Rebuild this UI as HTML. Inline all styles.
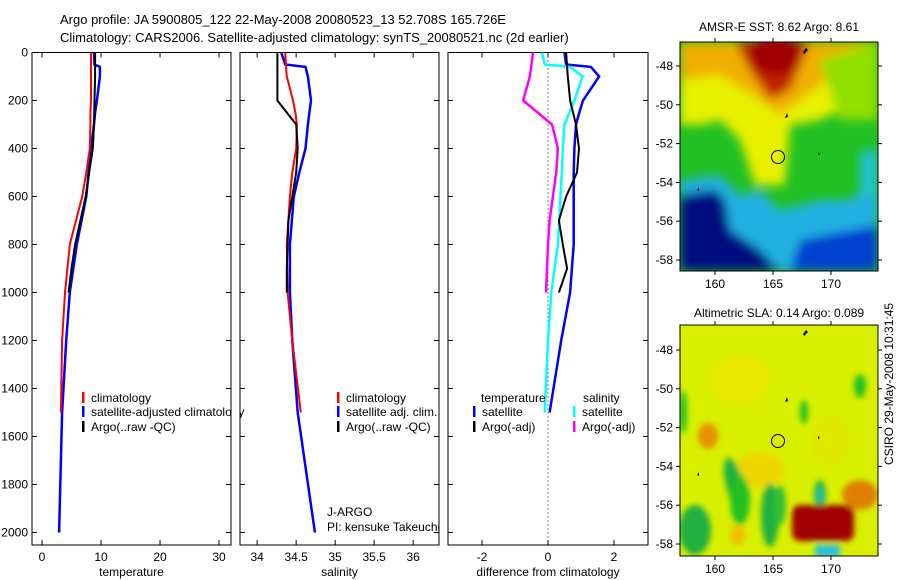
<!DOCTYPE html>
<html><head><meta charset="utf-8"><style>
html,body{margin:0;padding:0;background:#fff}
svg{display:block;font-family:"Liberation Sans",sans-serif}
</style></head><body>
<svg id="fig" width="900" height="580" viewBox="0 0 900 580" xmlns="http://www.w3.org/2000/svg">
<defs>
<filter id="bl" x="-20%" y="-20%" width="140%" height="140%"><feGaussianBlur stdDeviation="5"/></filter>
<filter id="bl2" x="-20%" y="-20%" width="140%" height="140%"><feGaussianBlur stdDeviation="3"/></filter>
<clipPath id="c1"><rect x="680" y="42" width="198" height="229"/></clipPath>
<clipPath id="c2"><rect x="680" y="325" width="198" height="231"/></clipPath>
</defs>
<text x="60" y="24" font-size="13">Argo profile: JA 5900805_122 22-May-2008 20080523_13 52.708S 165.726E</text>
<text x="60" y="42" font-size="13">Climatology: CARS2006. Satellite-adjusted climatology: synTS_20080521.nc (2d earlier)</text>

<g clip-path="url(#c1)">
<rect x="680" y="42" width="198" height="229" fill="#22c022"/>
<g filter="url(#bl)">
<polygon points="680,42 878,42 878,95 840,110 820,120 790,125 785,185 755,185 740,140 720,120 700,125 680,125" fill="#e8f000"/>
<polygon points="680,42 878,42 878,60 840,70 800,100 780,115 760,100 720,75 680,80" fill="#f0b000"/>
<polygon points="735,42 810,42 790,90 770,100 750,70" fill="#c02000"/>
<ellipse cx="775" cy="55" rx="25" ry="20" fill="#a00000"/>
<polygon points="820,60 878,42 878,120 840,120" fill="#90e000"/>
<polygon points="680,180 720,175 740,195 760,190 780,210 820,200 850,200 878,175 878,271 680,271" fill="#20b0e0"/>
<polygon points="860,150 878,150 878,200 860,195" fill="#20c0d0"/>
<polygon points="680,195 715,190 725,200 730,230 760,250 780,271 680,271" fill="#001080"/>
<polygon points="800,240 878,225 878,271 790,271" fill="#0040d0"/>
</g>
<circle cx="778" cy="157" r="6.5" fill="none" stroke="#000" stroke-width="1"/>
<path d="M803,52 l3,-4 l2,2 l-4,4z M785,118 l2,-5 l1,4z M818,152 l2,2 l-2,1z M697,190 l2,-3 l0,4z" fill="#000"/>
</g>
<rect x="680" y="42" width="198" height="229" fill="none" stroke="#000"/>
<text x="779" y="31" font-size="12" text-anchor="middle">AMSR-E SST: 8.62 Argo: 8.61</text>

<g clip-path="url(#c2)">
<rect x="680" y="325" width="198" height="231" fill="#d8f000"/>
<g filter="url(#bl2)">
<ellipse cx="740" cy="380" rx="30" ry="25" fill="#e8e800"/>
<ellipse cx="760" cy="470" rx="25" ry="18" fill="#ecd800"/>
<ellipse cx="830" cy="440" rx="20" ry="25" fill="#e0e800"/>
<ellipse cx="708" cy="436" rx="10" ry="13" fill="#e89000"/>
<ellipse cx="735" cy="485" rx="9" ry="28" fill="#20b040" transform="rotate(-15 735 485)"/>
<ellipse cx="740" cy="500" rx="10" ry="25" fill="#20c020"/>
<ellipse cx="695" cy="530" rx="16" ry="25" fill="#20b040"/>
<ellipse cx="770" cy="515" rx="9" ry="32" fill="#20b040"/>
<ellipse cx="780" cy="505" rx="6" ry="20" fill="#30c030"/>
<ellipse cx="820" cy="495" rx="6" ry="15" fill="#20b040"/>
<ellipse cx="820" cy="495" rx="3" ry="8" fill="#20c0c0"/>
<ellipse cx="804" cy="412" rx="4" ry="12" fill="#20c020"/>
<ellipse cx="860" cy="386" rx="6" ry="12" fill="#20c020"/>
<ellipse cx="683" cy="412" rx="4" ry="22" fill="#20c020"/>
<rect x="792" y="505" width="62" height="36" rx="8" fill="#a00000"/>
<ellipse cx="860" cy="495" rx="18" ry="15" fill="#e08000"/>
<ellipse cx="738" cy="535" rx="8" ry="10" fill="#f0c000"/>
<rect x="815" y="545" width="25" height="12" fill="#20c0e0"/>
</g>
<circle cx="778" cy="441" r="6.5" fill="none" stroke="#000" stroke-width="1"/>
<path d="M803,334 l3,-4 l2,2 l-4,4z M785,402 l2,-5 l1,4z M818,436 l2,2 l-2,1z M697,475 l2,-3 l0,4z" fill="#000"/>
</g>
<rect x="680" y="325" width="198" height="231" fill="none" stroke="#000"/>
<text x="779" y="317" font-size="12" text-anchor="middle">Altimetric SLA: 0.14 Argo: 0.089</text>
<text transform="translate(893,465) rotate(-90)" font-size="12">CSIRO 29-May-2008 10:31:45</text>
<g id="maxes"></g>
<g id="panels"></g>
</svg>
<script>
const depthClim = [0,50,60,100,200,250,300,400,500,600,800,1000,1200,1500,2000];
const tClim =    [8.3,8.3,8.3,8.3,8.3,8.2,8.2,8.1,7.5,6.8,4.7,3.9,3.4,3.2,null];
const tSat =     [8.8,8.9,9.8,9.8,9.3,9.0,8.8,8.3,7.9,7.5,5.9,4.7,4.1,3.4,2.9];
const depthArgo = [0,100,200,300,400,500,600,700,800,900,1000];
const tArgo =     [9.0,9.0,8.9,8.8,8.6,8.0,7.4,6.5,5.6,5.0,4.5];
const sClim =    [34.36,34.37,34.37,34.38,34.46,34.49,34.51,34.50,34.45,34.42,34.38,34.39,34.45,34.56,null];
const sSat =     [34.31,34.36,34.62,34.65,34.69,34.67,34.65,34.62,34.54,34.47,34.42,34.42,34.45,34.52,34.74];
const sArgo =    [34.26,34.26,34.26,34.50,34.52,34.50,34.45,34.40,34.39,34.38,34.38];
const dTSat =    [0.5,0.55,1.3,1.55,1.06,0.95,0.85,0.8,0.78,0.78,0.78,0.67,0.4,0.05,null];
const dSSat =    [-0.18,-0.1,0.67,1.05,0.8,0.65,0.5,0.45,0.42,0.38,0.3,0.1,0.0,-0.1,null];
const dTArgo =   [0.55,0.6,0.67,0.85,0.94,0.88,0.55,0.33,0.45,0.58,0.33];
const dSArgo =   [-0.45,-0.55,-0.75,0.12,0.3,0.25,0.15,0.05,0.0,-0.03,-0.06];
const depthTicks = [0,200,400,600,800,1000,1200,1400,1600,1800,2000];
const tTicks = [0,10,20,30];
const sTicks = [34,34.5,35,35.5,36];
const dTicks = [-2,0,2];
const lonTicks = [160,165,170];
const latTicks = [-48,-50,-52,-54,-56,-58];

const NS='http://www.w3.org/2000/svg';
const P=document.getElementById('panels');
function mk(tag,attrs,parent){const e=document.createElementNS(NS,tag);for(const k in attrs)e.setAttribute(k,attrs[k]);(parent||P).appendChild(e);return e;}
const yTop=52.5, yPx=0.24, yBot=545;
const y=d=>yTop+d*yPx;
const panels=[
 {x0:32,x1:231,v0:-1.7,scale:5.9,ticks:tTicks,label:'temperature',name:'temperature'},
 {x0:240,x1:439,v0:33.78,scale:78,ticks:sTicks,label:'salinity',name:'salinity'},
 {x0:448,x1:648,v0:-3.03,scale:33,ticks:dTicks,label:'difference from climatology',name:'difference'}
];
function xs(p){return v=>p.x0+(v-p.v0)*p.scale;}
panels.forEach((p,i)=>{
 const g=mk('g',{});
 
 
 const f=mk('rect',{x:p.x0,y:yTop,width:p.x1-p.x0,height:yBot-yTop,fill:'#fff',stroke:'#000','stroke-width':1},g);
 
 
 const X=xs(p);
 p.ticks.forEach(t=>{const xx=X(t);
  mk('line',{x1:xx,x2:xx,y1:yTop,y2:yTop+5,stroke:'#000'},g);
  mk('line',{x1:xx,x2:xx,y1:yBot,y2:yBot-5,stroke:'#000'},g);
  const tl=mk('text',{x:xx,y:yBot+16,'font-size':12,'text-anchor':'middle'},g);tl.textContent=String(t);
  
  
 });
 depthTicks.forEach(d=>{const yy=y(d);
  mk('line',{x1:p.x0,x2:p.x0+5,y1:yy,y2:yy,stroke:'#000'},g);
  mk('line',{x1:p.x1,x2:p.x1-5,y1:yy,y2:yy,stroke:'#000'},g);
  if(i===0){const tl=mk('text',{x:28,y:yy+4,'font-size':12,'text-anchor':'end'},g);tl.textContent=String(d);
   
   }
 });
 const xl=mk('text',{x:(p.x0+p.x1)/2,y:yBot+31,'font-size':12,'text-anchor':'middle'},g);xl.textContent=p.label;
 
 
});
function line(p,depths,vals,color,w,name){
 const X=xs(p);let pts=[];
 depths.forEach((d,k)=>{if(vals[k]!=null)pts.push(X(vals[k]).toFixed(1)+','+y(d).toFixed(1));});
 const e=mk('polyline',{points:pts.join(' '),fill:'none',stroke:color,'stroke-width':w});
 
 
}
const zl=mk('line',{x1:xs(panels[2])(0),x2:xs(panels[2])(0),y1:yTop,y2:yBot,stroke:'#000','stroke-dasharray':'1,3'});


line(panels[0],depthClim,tSat,'#0000ff',2.5,'temperature-satellite-line');
line(panels[0],depthArgo,tArgo,'#000',2,'temperature-argo-line');
line(panels[0],depthClim,tClim,'#ff0000',2,'temperature-climatology-line');
line(panels[1],depthClim,sSat,'#0000ff',2.5,'salinity-satellite-line');
line(panels[1],depthClim,sClim,'#ff0000',2,'salinity-climatology-line');
line(panels[1],depthArgo,sArgo,'#000',2,'salinity-argo-line');
line(panels[2],depthClim,dTSat,'#0000ff',2.5,'diff-temperature-satellite-line');
line(panels[2],depthClim,dSSat,'#00ffff',2.5,'diff-salinity-satellite-line');
line(panels[2],depthArgo,dTArgo,'#000',2,'diff-temperature-argo-line');
line(panels[2],depthArgo,dSArgo,'#ff00ff',2.5,'diff-salinity-argo-line');
function leg(x,yy,color,txt,name){
 if(color){const r=mk('rect',{x:x,y:yy-10,width:2.5,height:11,fill:color});
  
  }
 const t=mk('text',{x:x+(color?9:0),y:yy,'font-size':12});t.textContent=txt;
 
 
}
leg(82,402,'#ff0000','climatology','legend-climatology');
leg(82,416,'#0000ff','satellite-adjusted climatology','legend-satellite');
leg(82,431,'#000','Argo(..raw -QC)','legend-argo');
leg(337,402,'#ff0000','climatology','legend-sal-climatology');
leg(337,416,'#0000ff','satellite adj. clim.','legend-sal-satellite');
leg(337,431,'#000','Argo(..raw -QC)','legend-sal-argo');
leg(481,402,null,'temperature','legend-temperature-header');
leg(583,402,null,'salinity','legend-salinity-header');
leg(473,416,'#0000ff','satellite','legend-diff-temp-satellite');
leg(473,431,'#000','Argo(-adj)','legend-diff-temp-argo');
leg(573,416,'#00ffff','satellite','legend-diff-sal-satellite');
leg(573,431,'#ff00ff','Argo(-adj)','legend-diff-sal-argo');
const wo=mk('rect',{x:231.5,y:390,width:8,height:45,fill:'#fff'});


const j1=mk('text',{x:327,y:516,'font-size':12});j1.textContent='J-ARGO';


const j2=mk('text',{x:327,y:531,'font-size':12});j2.textContent='PI: kensuke Takeuchi';


const wo2=mk('rect',{x:439.5,y:518,width:8,height:16,fill:'#fff'});


const M=document.getElementById('maxes');
const lonX=l=>773+(l-165)*11.6;
[[42,271,66],[325,556,350]].forEach(([t,b,y48])=>{
 lonTicks.forEach(l=>{const xx=lonX(l);
  mk('line',{x1:xx,x2:xx,y1:t-4,y2:t,stroke:'#000'},M);
  mk('line',{x1:xx,x2:xx,y1:b,y2:b+4,stroke:'#000'},M);
  const tl=mk('text',{x:xx,y:b+17,'font-size':12,'text-anchor':'middle'},M);tl.textContent=String(l);
  
  
 });
 latTicks.forEach(la=>{const yy=y48+(-48-la)*19.4;
  mk('line',{x1:676,x2:680,y1:yy,y2:yy,stroke:'#000'},M);
  mk('line',{x1:878,x2:882,y1:yy,y2:yy,stroke:'#000'},M);
  const tl=mk('text',{x:673,y:yy+4,'font-size':12,'text-anchor':'end'},M);tl.textContent=String(la);
  
  
 });
});
</script>
</body></html>
